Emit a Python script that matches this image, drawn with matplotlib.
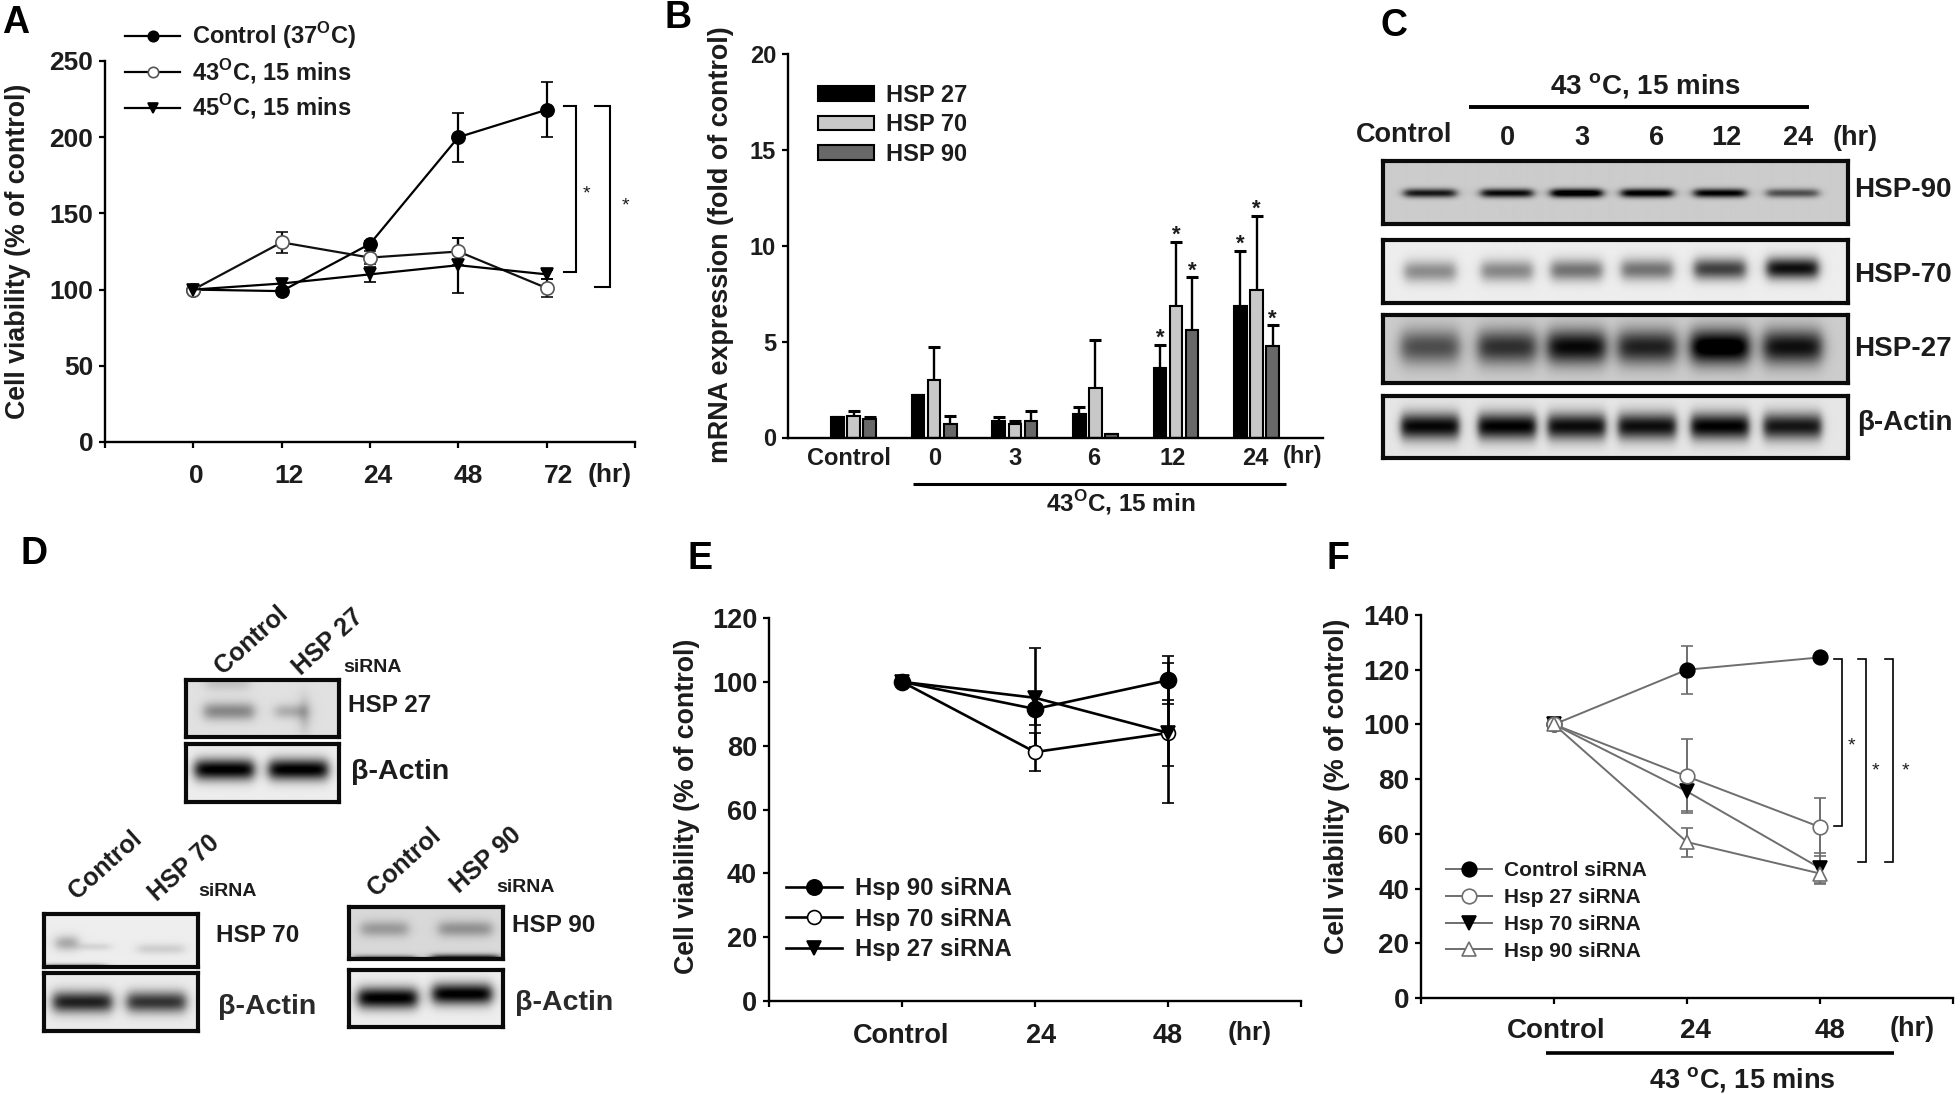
import numpy as np
import matplotlib
matplotlib.use('Agg')
import matplotlib.pyplot as plt
from matplotlib.transforms import Affine2D, ScaledTranslation
from matplotlib.lines import Line2D

W, H = 1960, 1094
plt.rcParams['font.family'] = ['Liberation Sans', 'DejaVu Sans']
plt.rcParams['font.weight'] = 'bold'
plt.rcParams['mathtext.fontset'] = 'custom'
plt.rcParams['mathtext.bf'] = 'Liberation Sans:bold'
plt.rcParams['mathtext.rm'] = 'Liberation Sans:bold'
plt.rcParams['axes.linewidth'] = 1.7
INK = '#1c1c1c'

# ---------- data ----------
a_cats = ['0', '12', '24', '48', '72']
a_control = [100, 99, 130, 200, 218]
a_control_err = [0, 2, 2, 16, 18]
a_43 = [100, 131, 121, 125, 101]
a_43_err = [0, 7, 4, 9, 6]
a_45 = [100, 104, 110, 116, 110]
a_45_err = [0, 3, 5, 18, 3]

b_cats = ['Control', '0', '3', '6', '12', '24']
b_27 = [1.05, 2.2, 0.85, 1.2, 3.6, 6.85]
b_27_top = [1.05, 2.2, 1.05, 1.6, 4.85, 9.75]
b_70 = [1.1, 3.0, 0.7, 2.6, 6.85, 7.7]
b_70_top = [1.4, 4.7, 0.85, 5.1, 10.2, 11.55]
b_90 = [0.95, 0.7, 0.85, 0.2, 5.6, 4.75]
b_90_top = [1.05, 1.1, 1.4, 0.2, 8.35, 5.85]

e_cats = ['Control', '24', '48']
e_90 = [100, 91.5, 100.5]
e_90_err = [0, 5, 7.5]
e_70 = [100, 78, 84]
e_70_err = [0, 6, 22]
e_27 = [100, 95, 84]
e_27_err = [0, 15.5, 10.4]

f_cats = ['Control', '24', '48']
f_ctrl = [100, 120, 124.5]
f_ctrl_err = [0, 8.7, 0]
f_27 = [100, 81, 62.5]
f_27_err = [0, 13.5, 10.5]
f_70 = [100, 75.5, 47.5]
f_70_err = [0, 7, 5.5]
f_90 = [100, 57, 45.5]
f_90_err = [0, 5.3, 4]

c_lanes = ['Control', '0', '3', '6', '12', '24']
c_hsp90 = [0.72, 0.78, 0.92, 0.85, 0.82, 0.5]
c_hsp70 = [0.38, 0.40, 0.48, 0.48, 0.68, 0.88]
c_hsp27 = [0.50, 0.62, 0.78, 0.68, 0.92, 0.75]
c_actin = [0.88, 0.90, 0.86, 0.85, 0.90, 0.82]

# ---------- helpers ----------
fig = plt.figure(figsize=(W / 100, H / 100), dpi=100, facecolor='white')
PX = Affine2D().scale(1, -1).translate(0, H)


def txt(x, y, s, size=16, ha='center', va='center', rot=0, **kw):
    kw.setdefault('color', INK)
    kw.setdefault('weight', 'bold')
    return fig.text(x, y, s, transform=PX, fontsize=size, ha=ha, va=va,
                    rotation=rot, rotation_mode='anchor', **kw)


def pline(xs, ys, lw=2.2, color='black'):
    fig.add_artist(Line2D(xs, ys, transform=PX, lw=lw, color=color,
                          solid_capstyle='butt', solid_joinstyle='miter'))


def mkax(l, t, r, b):
    ax = fig.add_axes([l / W, 1 - b / H, (r - l) / W, (b - t) / H])
    ax.patch.set_alpha(0)
    for s in ['top', 'right']:
        ax.spines[s].set_visible(False)
    return ax


def style(ax, size, ylab, ylab_x, ylab_y, ylab_len, xshift=None, xpad=11, xlen=4.5):
    ax.tick_params(axis='both', which='both', length=4.5, width=1.6, labelsize=size,
                   labelcolor=INK, pad=4)
    ax.tick_params(axis='x', which='major', pad=xpad, length=xlen)
    for lab in ax.get_yticklabels():
        lab.set_fontweight('bold')
    ax.set_ylabel(ylab, fontsize=16, weight='bold', color=INK)
    ax.yaxis.set_label_coords(ylab_x, ylab_y, transform=PX)
    lab = ax.yaxis.label
    lab.set_verticalalignment('center')
    fig.canvas.draw()
    ext = lab.get_window_extent(fig.canvas.get_renderer())
    lab.set_fontsize(16 * ylab_len / ext.height)
    if xshift:
        for lb, dx in zip(ax.get_xticklabels(), xshift):
            lb.set_transform(lb.get_transform() + ScaledTranslation(dx / 100, 0, fig.dpi_scale_trans))


def ebar(ax, x, y, e, color, marker, face, ms, lw=1.6, ecol=None, mec=None):
    return ax.errorbar(x, y, yerr=e, color=color, marker=marker, mfc=face,
                       mec=mec or color, ms=ms, lw=lw, elinewidth=lw,
                       ecolor=ecol or color, capsize=4.5, capthick=lw,
                       clip_on=False, mew=1.2)


def lh(label, color, marker, face, ms, lw=1.6, mec=None):
    return Line2D([], [], color=color, marker=marker, mfc=face, mec=mec or color, ms=ms, lw=lw,
                  mew=1.2, label=label)


def bracket(ax, x0, x1, y0, y1, lw=1.5):
    """x in pixels, y in data units"""
    tr = ax.get_yaxis_transform()
    inv = ax.transAxes.inverted()
    ax0 = inv.transform((x0, 0))[0]
    ax1 = inv.transform((x1, 0))[0]
    ax.plot([ax0, ax1, ax1, ax0], [y0, y0, y1, y1], transform=tr, color='black',
            lw=lw, clip_on=False, solid_joinstyle='miter')


def blot(l, t, r, b, bg, bands, lw=3.0, edge=0.02):
    """bands: (lane centre, band centre, half width, half height, strength) as fractions"""
    ax = fig.add_axes([l / W, 1 - b / H, (r - l) / W, (b - t) / H])
    nx, ny = int(r - l), int(b - t)
    xx, yy = np.meshgrid((np.arange(nx) + .5) / nx, (np.arange(ny) + .5) / ny)
    img = np.full_like(xx, bg, dtype=float)
    for cx, cy, hw, sg, s in bands:
        xp = 0.5 * (np.tanh((xx - cx + hw) / edge) - np.tanh((xx - cx - hw) / edge))
        yp = np.exp(-0.5 * ((yy - cy) / sg) ** 2)
        img = img - s * xp * yp
    ax.imshow(np.clip(img, 0, 1), cmap='gray', vmin=0, vmax=1, aspect='auto',
              interpolation='bilinear')
    ax.set_xticks([])
    ax.set_yticks([])
    for s in ax.spines.values():
        s.set_linewidth(lw)
        s.set_color('#0a0a0a')
    return ax


# ---------- panel letters ----------
for s, x, y in [('A', 16, 23), ('B', 678, 18), ('C', 1394, 26), ('D', 34, 554),
                ('E', 700, 559), ('F', 1338, 559)]:
    txt(x, y, s, size=27, color='black')

# ---------- panel A ----------
axA = mkax(105, 61, 635, 442)
xa = np.arange(len(a_cats))
A_LAB = [r'Control (37$^{\mathbf{O}}$C)', r'43$^{\mathbf{O}}$C, 15 mins', r'45$^{\mathbf{O}}$C, 15 mins']
ebar(axA, xa, a_control, a_control_err, 'black', 'o', 'black', 9.5)
ebar(axA, xa, a_43, a_43_err, '#111111', 'o', 'white', 9.5, mec='#555555')
ebar(axA, xa, a_45, a_45_err, 'black', 'v', 'black', 9)
axA.set_xlim(-1, 5)
axA.set_ylim(0, 250)
axA.set_yticks(range(0, 251, 50))
axA.set_xticks(xa)
axA.set_xticklabels(a_cats)
axA.set_xticks([-1, 5], minor=True)
style(axA, 19, 'Cell viability (% of control)', 18, 251, 336, xshift=[3, 7, 8, 10, 12], xpad=11)
txt(610, 475, '(hr)', size=19)
axA.legend(handles=[lh(A_LAB[0], 'black', 'o', 'black', 7.5), lh(A_LAB[1], 'black', 'o', 'white', 7.5, mec='#555555'),
                    lh(A_LAB[2], 'black', 'v', 'black', 7.5)],
           loc='upper left', bbox_to_anchor=(125, 20), bbox_transform=PX, frameon=False, fontsize=17,
           handlelength=2.33, handletextpad=0.5, labelspacing=0.27, borderpad=0, borderaxespad=0, labelcolor=INK)
bracket(axA, 564, 576, 220.5, 111.7)
bracket(axA, 595, 610, 220.5, 102)
txt(586, 194, '*', size=14, weight='normal')
txt(625, 206, '*', size=14, weight='normal')

# ---------- panel B ----------
px0, dpx = 853.6, 80.6
axB = mkax(788, 54, 1323, 437.5)
xb = np.arange(len(b_cats))
bw, off = 0.155, 0.2
for vals, tops, col, lab, dx in [(b_27, b_27_top, 'black', 'HSP 27', -off),
                                 (b_70, b_70_top, '#c8c8c8', 'HSP 70', 0),
                                 (b_90, b_90_top, '#686868', 'HSP 90', off)]:
    axB.bar(xb + dx, vals, width=bw, color=col, edgecolor='black', lw=1.5, label=lab, zorder=2)
    axB.errorbar(xb + dx, vals, yerr=[[0] * len(vals), np.array(tops) - np.array(vals)], fmt='none',
                 ecolor='black', elinewidth=1.7, capsize=4.5, capthick=2.2, zorder=1)
axB.set_xlim((788 - px0) / dpx, (1323 - px0) / dpx)
axB.set_ylim(0, 20)
axB.set_yticks(range(0, 21, 5))
axB.set_xticks(xb)
axB.set_xticklabels(b_cats)
style(axB, 17, 'mRNA expression (fold of control)', 721, 245, 436, xshift=[-5, 0, 0, -2, -3, -1], xpad=7, xlen=0)
txt(1303, 456, '(hr)', size=17)
axB.legend(loc='upper left', bbox_to_anchor=(818, 84), bbox_transform=PX, frameon=False, fontsize=17,
           handlelength=2.37, handleheight=0.57, handletextpad=0.5, labelspacing=0.27, borderpad=0,
           borderaxespad=0, labelcolor=INK)
pline([912.5, 1286], [484, 484], lw=2.2)
txt(1121, 503, r'43$^{\mathbf{O}}$C, 15 min', size=17.5)
for gi, off_i, top in [(4, -off, b_27_top[4]), (4, 0, b_70_top[4]), (4, off, b_90_top[4]),
                       (5, -off, b_27_top[5]), (5, 0, b_70_top[5]), (5, off, b_90_top[5])]:
    axB.annotate('*', (gi + off_i, top), xytext=(0, -3), textcoords='offset points', ha='center',
                 va='bottom', fontsize=16, color=INK)

# ---------- panel C ----------
lanes = [0.1011, 0.2663, 0.4156, 0.5668, 0.723, 0.8787]
blot(1383, 161, 1848, 224, 0.80, [(c, 0.51, 0.055, 0.05, s) for c, s in zip(lanes, c_hsp90)], edge=0.012)
blot(1383, 240, 1848, 303, 0.93, [(c, 0.50 - 0.01 * i, 0.055, 0.12, s) for i, (c, s) in enumerate(zip(lanes, c_hsp70))], edge=0.012)
blot(1383, 315, 1848, 383, 0.80, [(c, 0.47, 0.062, 0.18, s) for c, s in zip(lanes, c_hsp27)], edge=0.016)
blot(1383, 396, 1848, 458, 0.90, [(c, 0.49, 0.062, 0.15, s) for c, s in zip(lanes, c_actin)], edge=0.01)
for s, y in [('HSP-90', 190), ('HSP-70', 275), ('HSP-27', 349)]:
    txt(1854, y, s, size=20, ha='left')
txt(1857, 423, '\u03b2-Actin', size=20, ha='left')
txt(1646, 86, r'43 $^{\mathbf{o}}$C, 15 mins', size=20)
pline([1469, 1809], [107, 107], lw=2.8)
for s, x, y in zip(c_lanes, [1404, 1507, 1582, 1657, 1726, 1798], [135, 138, 138, 138, 138, 138]):
    txt(x, y, s, size=19.5)
txt(1855, 138, '(hr)', size=19.5)

# ---------- panel D ----------
txt(251, 640, 'Control', size=18, rot=42)
txt(328, 642, 'HSP 27', size=18, rot=42)
txt(373, 667, 'siRNA', size=14)
blot(186, 680, 339, 737, 0.88, [(0.28, 0.55, 0.16, 0.11, 0.35), (0.68, 0.55, 0.10, 0.09, 0.2),
                                (0.77, 0.6, 0.015, 0.22, 0.45), (0.27, 0.05, 0.14, 0.1, 0.12)], edge=0.04)
blot(186, 744, 339, 802, 0.93, [(0.25, 0.44, 0.19, 0.13, 0.95), (0.73, 0.44, 0.19, 0.13, 0.95)], edge=0.04)
txt(348, 706, 'HSP 27', size=17.5, ha='left')
txt(351, 772, '\u03b2-Actin', size=20.5, ha='left')

txt(105, 865, 'Control', size=18, rot=42)
txt(184, 868, 'HSP 70', size=18, rot=42)
txt(228, 892, 'siRNA', size=14)
blot(44, 914, 198, 967, 0.93, [(0.15, 0.55, 0.07, 0.1, 0.28), (0.33, 0.62, 0.1, 0.05, 0.1),
                               (0.76, 0.66, 0.15, 0.07, 0.12), (0.2, 1.0, 0.2, 0.04, 0.5)], edge=0.04)
blot(44, 973, 198, 1031, 0.92, [(0.25, 0.5, 0.19, 0.13, 0.8), (0.73, 0.5, 0.19, 0.13, 0.72)], edge=0.04)
txt(216, 936, 'HSP 70', size=17.5, ha='left')
txt(218, 1007, '\u03b2-Actin', size=20.5, ha='left', color='#2a2a2a')

txt(404, 862, 'Control', size=18, rot=42)
txt(486, 860, 'HSP 90', size=18, rot=42)
txt(526, 888, 'siRNA', size=14)
blot(349, 907, 503, 959, 0.85, [(0.23, 0.42, 0.15, 0.11, 0.25), (0.75, 0.42, 0.17, 0.11, 0.28),
                                (0.23, 1.0, 0.2, 0.05, 0.55), (0.75, 1.0, 0.22, 0.06, 0.85)], edge=0.04)
blot(349, 970, 503, 1027, 0.93, [(0.25, 0.5, 0.19, 0.13, 0.95), (0.73, 0.43, 0.19, 0.13, 0.95)], edge=0.04)
txt(512, 926, 'HSP 90', size=17.5, ha='left')
txt(515, 1003, '\u03b2-Actin', size=20.5, ha='left', color='#2a2a2a')

# ---------- panel E ----------
axE = mkax(769, 618, 1301, 1001)
xe = np.arange(len(e_cats))
ebar(axE, xe, e_70, e_70_err, 'black', 'o', 'white', 10, lw=1.9)
ebar(axE, xe, e_27, e_27_err, 'black', 'v', 'black', 10.5, lw=1.9)
ebar(axE, xe, e_90, e_90_err, 'black', 'o', 'black', 11.5, lw=1.9)
axE.set_xlim(-1, 3)
axE.set_ylim(0, 120)
axE.set_yticks(range(0, 121, 20))
axE.set_xticks(xe)
axE.set_xticklabels(e_cats)
axE.set_xticks([-1, 3], minor=True)
style(axE, 19.5, 'Cell viability (% of control)', 687, 806, 336, xshift=[-1, 6, 0], xpad=11)
txt(1250, 1033, '(hr)', size=19)
axE.legend(handles=[lh('Hsp 90 siRNA', 'black', 'o', 'black', 11, lw=1.9),
                    lh('Hsp 70 siRNA', 'black', 'o', 'white', 10, lw=1.9),
                    lh('Hsp 27 siRNA', 'black', 'v', 'black', 10.5, lw=1.9)],
           loc='upper left', bbox_to_anchor=(786, 877), bbox_transform=PX, frameon=False,
           fontsize=17.2, handlelength=2.34, handletextpad=0.55, labelspacing=0.32, borderpad=0,
           borderaxespad=0, labelcolor=INK)

# ---------- panel F ----------
axF = mkax(1421, 615, 1953, 998)
xf = np.arange(len(f_cats))
G = '#6e6e6e'
ebar(axF, xf, f_ctrl, f_ctrl_err, G, 'o', 'black', 10.5, lw=1.4, mec='black')
ebar(axF, xf, f_70, f_70_err, G, 'v', 'black', 10, lw=1.4, mec='black')
ebar(axF, xf, f_27, f_27_err, G, 'o', 'white', 10.5, lw=1.4)
ebar(axF, xf, f_90, f_90_err, G, '^', 'white', 9.5, lw=1.4)
axF.set_xlim(-1, 3)
axF.set_ylim(0, 140)
axF.set_yticks(range(0, 141, 20))
axF.set_xticks(xf)
axF.set_xticklabels(f_cats)
axF.set_xticks([-1, 3], minor=True)
style(axF, 20, 'Cell viability (% of control)', 1337, 786, 336, xshift=[2, 8, 10], xpad=10)
txt(1912, 1029, '(hr)', size=19.5)
axF.legend(handles=[lh('Control siRNA', G, 'o', 'black', 10.5, lw=1.4, mec='black'),
                    lh('Hsp 27 siRNA', G, 'o', 'white', 10.5, lw=1.4),
                    lh('Hsp 70 siRNA', G, 'v', 'black', 10, lw=1.4, mec='black'),
                    lh('Hsp 90 siRNA', G, '^', 'white', 9.5, lw=1.4)],
           loc='upper left', bbox_to_anchor=(1446, 861), bbox_transform=PX, frameon=False, fontsize=15,
           handlelength=2.2, handletextpad=0.6, labelspacing=0.38, borderpad=0, borderaxespad=0, labelcolor=INK)
bracket(axF, 1834, 1842, 124, 63, lw=1.2)
bracket(axF, 1858, 1866, 124, 49.8, lw=1.2)
bracket(axF, 1885, 1893, 124, 49.8, lw=1.2)
txt(1851, 746, '*', size=14, weight='normal')
txt(1875, 771, '*', size=14, weight='normal')
txt(1905, 771, '*', size=14, weight='normal')
pline([1546, 1894], [1052.5, 1052.5], lw=2.6)
txt(1742, 1079, r'43 $^{\mathbf{o}}$C, 15 mins', size=19.5)

fig.savefig('out.png', dpi=100)
